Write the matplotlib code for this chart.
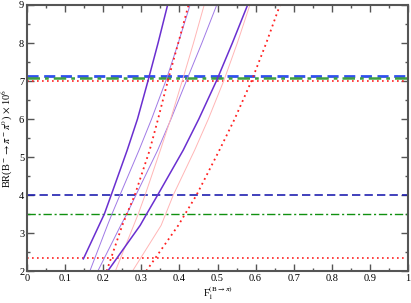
import matplotlib
matplotlib.use("Agg")
import matplotlib.pyplot as plt
from matplotlib.ticker import MultipleLocator

plt.rcParams['font.family'] = ['Liberation Serif', 'DejaVu Serif']
plt.rcParams['mathtext.fontset'] = 'stix'

# Curves: F1 values read at BR levels (x 10^-6)
br_levels = [2.0, 3.2, 3.5, 4.0, 5.18, 6.0, 7.02, 8.0, 9.0]

thick1_br = [2.32, 3.2, 3.5, 4.0, 5.18, 6.0, 7.02, 8.0, 9.0]
thick1_f = [0.148, 0.189, 0.203, 0.221, 0.263, 0.290, 0.318, 0.344, 0.369]

dotted2_f = [0.209, 0.250, 0.262, 0.283, 0.322, 0.344, 0.370, 0.397, 0.424]
thinA_f = [0.165, 0.211, 0.223, 0.244, 0.294, 0.327, 0.365, 0.397, 0.428]
thinB_f = [0.186, 0.246, 0.262, 0.286, 0.343, 0.378, 0.419, 0.459, 0.498]
pink4_f = [0.232, 0.280, 0.292, 0.310, 0.350, 0.377, 0.408, 0.437, 0.465]
thick6_f = [0.212, 0.297, 0.314, 0.343, 0.410, 0.451, 0.498, 0.539, 0.579]
pink7_f = [0.277, 0.352, 0.364, 0.384, 0.440, 0.476, 0.517, 0.552, 0.585]
dotted8_f = [0.313, 0.397, 0.415, 0.445, 0.505, 0.545, 0.590, 0.628, 0.664]

# Horizontal experimental bands
blue_levels = [7.12, 4.0]
green_levels = [7.08, 3.5]
red_levels = [7.0, 2.33]

fig = plt.figure(figsize=(4.11, 3.03), dpi=100)
ax = fig.add_axes([0.0657, 0.1056, 0.9270, 0.8779])

purple = '#6a2fd0'
thin_purple = '#a07ae6'
pink = '#ffb6b6'
red = '#ff2020'

ax.axhline(blue_levels[0], color='#3050ee', lw=2.0, ls=(0, (4, 2)))
ax.axhline(blue_levels[1], color='#2020b0', lw=1.2, ls=(0, (5, 2.5)))
ax.axhline(green_levels[0], color='#40a040', lw=1.8, ls=(0, (5, 2, 1.5, 2)))
ax.axhline(green_levels[1], color='#109010', lw=1.0, ls=(0, (6, 2, 1.5, 2)))
ax.axhline(red_levels[0], color=red, lw=1.2, ls=(0, (1, 2)))
ax.axhline(red_levels[1], color=red, lw=1.2, ls=(0, (1, 2)))

ax.plot(thinA_f, br_levels, color=thin_purple, lw=0.7)
ax.plot(thinB_f, br_levels, color=thin_purple, lw=0.7)
ax.plot(pink4_f, br_levels, color=pink, lw=0.7)
ax.plot(pink7_f, br_levels, color=pink, lw=0.7)
ax.plot(dotted2_f, br_levels, color=red, lw=1.3, ls=(0, (1, 2)))
ax.plot(dotted8_f, br_levels, color=red, lw=1.3, ls=(0, (1, 2)))
ax.plot(thick1_f, thick1_br, color=purple, lw=1.1)
ax.plot(thick6_f, br_levels, color=purple, lw=1.1)

ax.set_xlim(0, 1)
ax.set_ylim(2, 9)
ax.xaxis.set_major_locator(MultipleLocator(0.1))
ax.xaxis.set_minor_locator(MultipleLocator(0.05))
ax.yaxis.set_major_locator(MultipleLocator(1))
ax.yaxis.set_minor_locator(MultipleLocator(0.5))
ax.set_xticks([0, 0.1, 0.2, 0.3, 0.4, 0.5, 0.6, 0.7, 0.8, 0.9, 1.0])
ax.set_xticklabels(['0', '0.1', '0.2', '0.3', '0.4', '0.5', '0.6', '0.7', '0.8', '0.9', '1'])
ax.tick_params(which='both', direction='in', top=True, right=True,
               color='#555555', labelsize=7.5, pad=2)
ax.tick_params(which='major', length=5, width=1.0)
ax.tick_params(which='minor', length=2.5, width=1.0)
for s in ax.spines.values():
    s.set_color('#555555')
    s.set_linewidth(1.5)

ax.set_xlabel(r'F$_1^{(\mathrm{B}\rightarrow\pi)}$', fontsize=7.5, labelpad=1)
ax.set_ylabel(r'BR(B$^-\rightarrow\pi^-\pi^0$) $\times$ 10$^6$', fontsize=7.5, labelpad=3)

fig.savefig('out.png', dpi=100)
